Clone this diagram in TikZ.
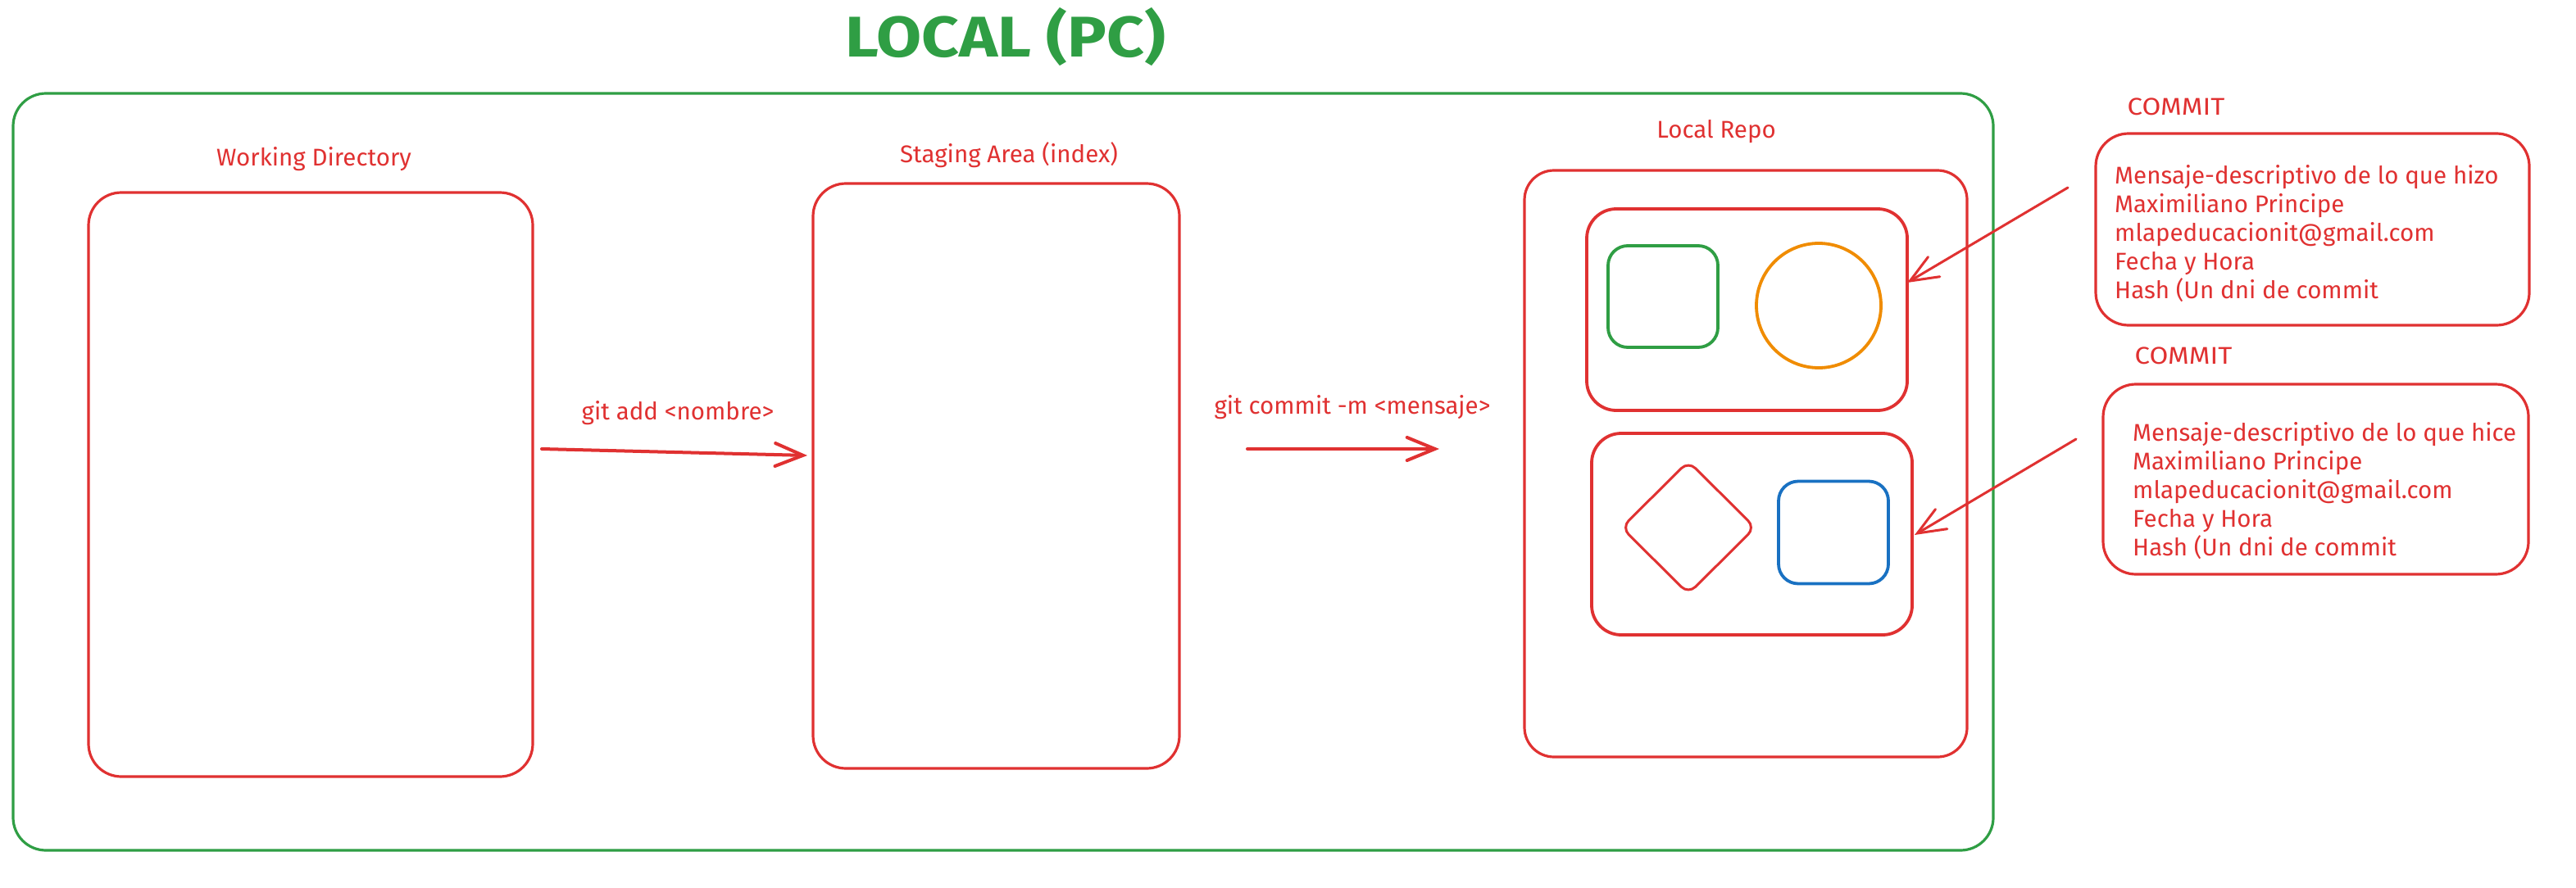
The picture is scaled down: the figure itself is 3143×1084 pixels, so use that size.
\documentclass[tikz,border=0pt]{standalone}
\usepackage{fontspec}
\setmainfont{Fira Sans}
\usetikzlibrary{arrows.meta,shapes.geometric}
\definecolor{exred}{HTML}{E03131}
\definecolor{exgreen}{HTML}{2F9E44}
\definecolor{exorange}{HTML}{F08C00}
\definecolor{exblue}{HTML}{1971C2}
\begin{document}
\begin{tikzpicture}[x=1pt,y=-1pt,
  frame/.style={draw=#1, line width=3.2pt, rounded corners=40pt, inner sep=0pt},
  panel/.style={draw=exred, line width=3.8pt, rounded corners=36pt, inner sep=0pt},
  shapebox/.style={draw=#1, line width=3.8pt, rounded corners=24pt, inner sep=0pt},
  lbl/.style={text=exred, font=\fontsize{29.5}{35}\selectfont, anchor=base, inner sep=0pt},
  info/.style={text=exred, font=\fontsize{29.5}{35}\selectfont, align=left, anchor=base west, inner sep=0pt},
  arr/.style={draw=exred, line width=4pt, line cap=round, -{Straight Barb[length=34pt,width=28pt,line cap=round]}}
]
\useasboundingbox[fill=white] (0,0) rectangle (3143,1084);

% title
\node[text=exgreen, font=\fontsize{70}{84}\selectfont\bfseries, anchor=base, inner sep=0pt] (title) at (1227,69) {\scalebox{1.14}[1]{LOCAL (PC)}};

% outer frame
\node[frame=exgreen, minimum width=2416, minimum height=924] (local) at (1224,576) {};

% working directory
\node[frame=exred, minimum width=542, minimum height=713] (wd) at (379,591.5) {};
\node[lbl] (wdl) at (383,202) {Working Directory};

% staging area
\node[frame=exred, minimum width=447, minimum height=714] (sa) at (1215.5,581) {};
\node[lbl] (sal) at (1231,198) {Staging Area (index)};

% local repo
\node[panel, line width=3.2pt, minimum width=540, minimum height=716] (lr) at (2130,566) {};
\node[lbl] (lrl) at (2094,168) {Local Repo};

% commit panels
\node[panel, minimum width=391, minimum height=246] (c1) at (2131.5,378) {};
\node[shapebox=exgreen, minimum width=134, minimum height=124] (g1) at (2029,362) {};
\node[circle, draw=exorange, line width=3.8pt, minimum size=152, inner sep=0pt] (o1) at (2219,373) {};

\node[panel, minimum width=391, minimum height=246] (c2) at (2137.5,652) {};
\node[diamond, draw=exred, line width=3pt, rounded corners=12pt, minimum width=164, minimum height=163, inner sep=0pt] (d2) at (2060,644) {};
\node[shapebox=exblue, minimum width=134, minimum height=125] (b2) at (2237,650) {};

% arrows
\coordinate (ga1) at (661,548);
\coordinate (ga2) at (985,556);
\draw[arr] (ga1) -- (ga2);
\node[lbl] (gal) at (827,512) {git add <nombre>};

\coordinate (gc1) at (1522,548);
\coordinate (gc2) at (1756,548);
\draw[arr] (gc1) -- (gc2);
\node[lbl] (gcl) at (1650,505) {git commit -m <mensaje>};

% commit info 1
\node[lbl] (k1) at (2655,140) {\scalebox{1.12}[1]{COMMIT}};
\node[frame=exred, minimum width=529, minimum height=234] (i1) at (2821.5,280) {};
\node[info] (t1) at (2580,364) {Mensaje-descriptivo de lo que hizo\\Maximiliano Principe\\mlapeducacionit@gmail.com\\Fecha y Hora\\Hash (Un dni de commit};

% commit info 2
\node[lbl] (k2) at (2664,444) {\scalebox{1.12}[1]{COMMIT}};
\node[frame=exred, minimum width=519, minimum height=232] (i2) at (2825.5,585) {};
\node[info] (t2) at (2602,678) {Mensaje-descriptivo de lo que hice\\Maximiliano Principe\\mlapeducacionit@gmail.com\\Fecha y Hora\\Hash (Un dni de commit};

\coordinate (a1s) at (2523,229);
\coordinate (a1e) at (2327,345);
\draw[arr, line width=3pt] (a1s) -- (a1e);
\coordinate (a2s) at (2533,536);
\coordinate (a2e) at (2336,653);
\draw[arr, line width=3pt] (a2s) -- (a2e);
\end{tikzpicture}
\end{document}
